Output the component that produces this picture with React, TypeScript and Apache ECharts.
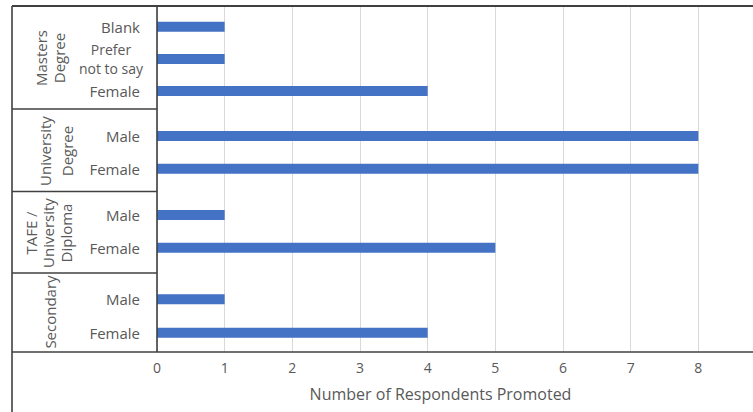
import React, { useEffect, useRef } from "react";
import * as echarts from "echarts";

const groupNames = ["Masters\nDegree", "University\nDegree", "TAFE /\nUniversity\nDiploma", "Secondary"];
const mastersCats = ["Blank", "Prefer\nnot to say", "Female"];
const mastersVals = [1, 1, 4];
const uniCats = ["Male", "Female"];
const uniVals = [8, 8];
const tafeCats = ["Male", "Female"];
const tafeVals = [1, 5];
const secCats = ["Male", "Female"];
const secVals = [1, 4];
const xMin = 0;
const xMax = 9;
const xInterval = 1;
const xTitle = "Number of Respondents Promoted";

const FONT = "Open Sans";
const GREY = "#595959";
const LINE = "#404040";
const BLUE = "#4472C4";

const CHART_W = 772;
const CHART_H = 412;

export default function App() {
  const ref = useRef<HTMLDivElement>(null);
  useEffect(() => {
    if (!ref.current) return;
    const chart = echarts.init(ref.current, null, { renderer: "svg" });
    const plotLeft = 157;
    const plotRight = CHART_W - 766;
    const groups = [
      { cats: mastersCats, vals: mastersVals, top: 10.6, height: 96.6 },
      { cats: uniCats, vals: uniVals, top: 119.6, height: 65.4 },
      { cats: tafeCats, vals: tafeVals, top: 198.6, height: 65.4 },
      { cats: secCats, vals: secVals, top: 282.6, height: 66.8 },
    ];
    const grids: any[] = [{ left: plotLeft, right: plotRight, top: 6, bottom: CHART_H - 352 }];
    const xAxes: any[] = [
      {
        type: "value",
        gridIndex: 0,
        min: xMin,
        max: xMax,
        interval: xInterval,
        axisLine: { show: false },
        axisTick: { show: false },
        splitLine: { show: true, lineStyle: { color: "#d9d9d9", width: 1 } },
        axisLabel: { color: GREY, fontFamily: FONT, fontSize: 14, margin: 8, showMaxLabel: false },
        name: xTitle,
        nameLocation: "middle",
        nameGap: 34,
        nameTextStyle: { color: GREY, fontFamily: FONT, fontSize: 16, padding: [0, 42, 0, 0] },
      },
    ];
    const yAxes: any[] = [{ type: "value", gridIndex: 0, show: false }];
    const series: any[] = [];
    groups.forEach((g, i) => {
      const gi = i + 1;
      grids.push({ left: plotLeft, right: plotRight, top: g.top, height: g.height });
      xAxes.push({ type: "value", gridIndex: gi, min: xMin, max: xMax, interval: xInterval, show: false, splitLine: { show: false } });
      yAxes.push({
        type: "category",
        gridIndex: gi,
        inverse: true,
        data: g.cats.map((c) =>
          c.indexOf("\n") >= 0
            ? { value: c, textStyle: { align: "center", fontSize: 14, lineHeight: 19, padding: [0, 58, 0, 0] } }
            : c
        ),
        axisLine: { show: false },
        axisTick: { show: false },
        axisLabel: { color: GREY, fontFamily: FONT, fontSize: 15, margin: 17 },
      });
      series.push({
        type: "bar",
        xAxisIndex: gi,
        yAxisIndex: gi,
        data: g.vals,
        barWidth: 10,
        itemStyle: { color: BLUE },
        silent: true,
      });
    });

    const ln = (x1: number, y1: number, x2: number, y2: number, w = 1.6) => ({
      type: "line",
      z: 10,
      shape: { x1, y1, x2, y2 },
      style: { stroke: LINE, lineWidth: w },
    });
    const labelPos = [
      { x: 50, y: 58 },
      { x: 56, y: 151 },
      { x: 48, y: 233 },
      { x: 50, y: 312 },
    ];
    const graphic: any[] = [
      ln(12, 6, CHART_W, 6, 2),
      ln(12, 6, 12, CHART_H, 1.6),
      ln(157, 6, 157, 352, 1.6),
      ln(12, 352, CHART_W, 352, 1.6),
      ln(12, 109, 157, 109, 1.6),
      ln(12, 191.5, 157, 191.5, 1.6),
      ln(12, 273, 157, 273, 1.6),
      ...groupNames.map((name, i) => ({
        type: "text",
        z: 10,
        x: labelPos[i].x,
        y: labelPos[i].y,
        rotation: Math.PI / 2,
        style: {
          text: name,
          fill: GREY,
          font: `15px "${FONT}"`,
          align: "center",
          verticalAlign: "middle",
          lineHeight: i === 1 ? 22 : 17.5,
        },
      })),
    ];

    chart.setOption({
      animation: false,
      backgroundColor: "#ffffff",
      grid: grids,
      xAxis: xAxes,
      yAxis: yAxes,
      series,
      graphic,
    });
    return () => chart.dispose();
  }, []);
  return (
    <div style={{ position: "absolute", left: 0, top: 0, width: 753, height: 412, overflow: "hidden", background: "#fff" }}>
      <div ref={ref} style={{ width: CHART_W, height: CHART_H }} />
    </div>
  );
}
